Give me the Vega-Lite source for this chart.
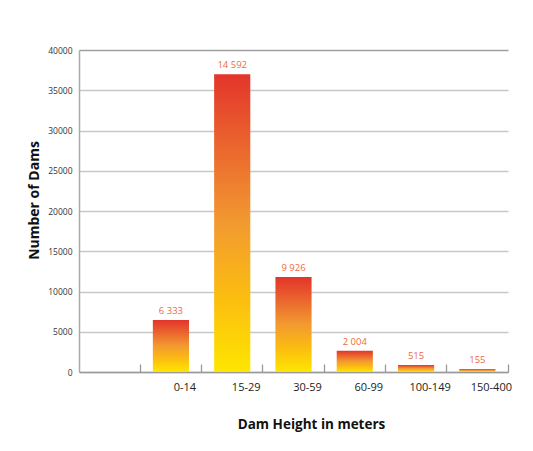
{
  "$schema": "https://vega.github.io/schema/vega-lite/v6.json",
  "width": 429,
  "height": 322,
  "autosize": {"type": "none"},
  "padding": {"left": 79, "top": 50, "right": 25, "bottom": 79},
  "background": "white",
  "config": {"view": {"stroke": null}, "font": "Open Sans"},
  "data": {
    "values": [
      {"height": "0-14", "dams": 6450, "label": "6 333"},
      {"height": "15-29", "dams": 37000, "label": "14 592"},
      {"height": "30-59", "dams": 11800, "label": "9 926"},
      {"height": "60-99", "dams": 2650, "label": "2 004"},
      {"height": "100-149", "dams": 870, "label": "515"},
      {"height": "150-400", "dams": 380, "label": "155"}
    ]
  },
  "encoding": {
    "x": {
      "field": "height",
      "type": "nominal",
      "sort": null,
      "scale": {"domain": ["", "0-14", "15-29", "30-59", "60-99", "100-149", "150-400"], "paddingInner": 0.41, "paddingOuter": 0.205},
      "axis": {
        "title": "Dam Height in meters",
        "titleFont": "Open Sans",
        "titleFontWeight": "bold",
        "titleFontSize": 13.5,
        "titleColor": "#111",
        "titleX": 232,
        "titleY": 52,
        "titleBaseline": "middle",
        "labelAngle": 0,
        "labelFontSize": 11,
        "labelColor": "#222",
        "labelPadding": 17,
        "labelOffset": 14,
        "bandPosition": 1.35,
        "tickSize": -8,
        "tickColor": "#999",
        "tickWidth": 1.3,
        "domainColor": "#999",
        "domainWidth": 1.5,
        "grid": false
      }
    },
    "y": {
      "field": "dams",
      "type": "quantitative",
      "scale": {"domain": [0, 40000]},
      "axis": {
        "title": "Number of Dams",
        "titleFont": "Open Sans",
        "titleFontWeight": "bold",
        "titleFontSize": 14,
        "titleColor": "#111",
        "titlePadding": 6,
        "titleY": 150,
        "values": [0, 5000, 10000, 15000, 20000, 25000, 30000, 35000, 40000],
        "format": "d",
        "labelFontSize": 8.5,
        "labelColor": "#333",
        "labelPadding": 7,
        "ticks": false,
        "domainColor": "#aaa",
        "domainWidth": 1.5,
        "gridColor": {"condition": {"test": "datum.value === 40000", "value": "#a0a0a0"}, "value": "#c8c8c8"},
        "gridWidth": 1.3
      }
    }
  },
  "layer": [
    {
      "mark": {
        "type": "bar",
        "color": {
          "gradient": "linear",
          "x1": 0, "y1": 0, "x2": 0, "y2": 1,
          "stops": [
            {"offset": 0, "color": "#e3342b"},
            {"offset": 0.5, "color": "#f29a30"},
            {"offset": 0.75, "color": "#fbbd10"},
            {"offset": 1, "color": "#ffe600"}
          ]
        }
      }
    },
    {
      "mark": {"type": "text", "baseline": "bottom", "dy": -4, "fontSize": 9.5, "color": "#ef6a3e", "font": "Open Sans"},
      "encoding": {"text": {"field": "label"}}
    }
  ]
}
